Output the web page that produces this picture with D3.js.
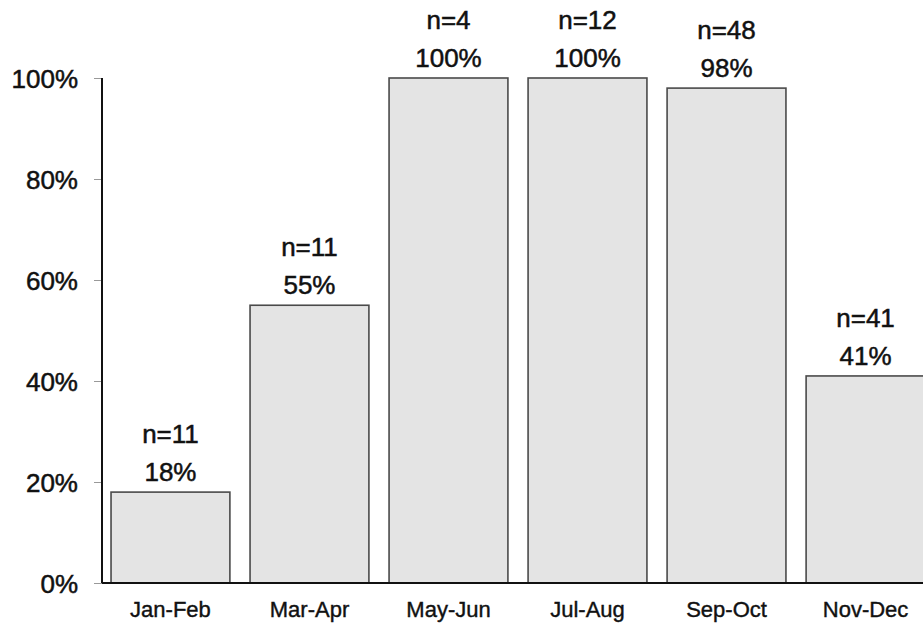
<!DOCTYPE html>
<html>
<head>
<meta charset="utf-8">
<script src="https://cdn.jsdelivr.net/npm/d3@7"></script>
<style>
  html, body { margin: 0; padding: 0; background: #fff; }
  svg { display: block; font-family: "Liberation Sans", Arial, sans-serif; }
</style>
</head>
<body>
<svg id="chart" width="923" height="623"></svg>
<script>
// Share of samples by two-month period, with sample counts
const periods = ["Jan-Feb", "Mar-Apr", "May-Jun", "Jul-Aug", "Sep-Oct", "Nov-Dec"];
const percents = [18, 55, 100, 100, 98, 41];
const counts = [11, 11, 4, 12, 48, 41];
const yTicks = [0, 20, 40, 60, 80, 100];

const data = periods.map((p, i) => ({ period: p, pct: percents[i], n: counts[i] }));

const svg = d3.select("#chart");

const x = d3.scaleBand()
  .domain(periods)
  .range([102, 934])
  .paddingInner(0.145)
  .paddingOuter(0.065);

const y = d3.scaleLinear()
  .domain([0, 100])
  .range([583, 78]);

// Bars
svg.append("g")
  .selectAll("rect")
  .data(data)
  .join("rect")
  .attr("x", d => x(d.period))
  .attr("y", d => y(d.pct))
  .attr("width", x.bandwidth())
  .attr("height", d => y(0) - y(d.pct))
  .attr("fill", "#e4e4e4")
  .attr("stroke", "#4a4a4a")
  .attr("stroke-width", 1.6);

// Y axis
const yAxis = d3.axisLeft(y)
  .tickValues(yTicks)
  .tickFormat(d => d + "%")
  .tickSize(8)
  .tickPadding(16);

const gy = svg.append("g")
  .attr("transform", "translate(102,0)")
  .call(yAxis);
gy.select(".domain").remove();
gy.selectAll(".tick line").attr("stroke", "#999").attr("stroke-width", 1);
gy.selectAll(".tick text")
  .attr("font-size", 26)
  .attr("fill", "#111")
  .attr("stroke", "#111")
  .attr("stroke-width", 0.5)
  .attr("font-family", "'Liberation Sans', Arial, sans-serif")
  .attr("dy", "0.38em");

// Vertical axis line
svg.append("line")
  .attr("x1", 102).attr("x2", 102)
  .attr("y1", y(100)).attr("y2", y(0))
  .attr("stroke", "#111").attr("stroke-width", 2);

// Baseline
svg.append("line")
  .attr("x1", 102).attr("x2", 923)
  .attr("y1", y(0)).attr("y2", y(0))
  .attr("stroke", "#111").attr("stroke-width", 2);

// Category labels
const xAxis = d3.axisBottom(x).tickSize(0).tickPadding(18);
const gx = svg.append("g")
  .attr("transform", `translate(0,${y(0)})`)
  .call(xAxis);
gx.select(".domain").remove();
gx.selectAll(".tick text")
  .attr("font-size", 22)
  .attr("fill", "#111")
  .attr("stroke", "#111")
  .attr("stroke-width", 0.4)
  .attr("font-family", "'Liberation Sans', Arial, sans-serif");

// Value labels above bars
const labels = svg.append("g")
  .attr("text-anchor", "middle")
  .attr("font-size", 26)
  .attr("fill", "#111")
  .attr("stroke", "#111")
  .attr("stroke-width", 0.5);

labels.selectAll("text.pct")
  .data(data)
  .join("text")
  .attr("class", "pct")
  .attr("x", d => x(d.period) + x.bandwidth() / 2)
  .attr("y", d => y(d.pct) - 11)
  .text(d => d.pct + "%");

labels.selectAll("text.n")
  .data(data)
  .join("text")
  .attr("class", "n")
  .attr("x", d => x(d.period) + x.bandwidth() / 2)
  .attr("y", d => y(d.pct) - 49)
  .text(d => "n=" + d.n);
</script>
</body>
</html>
